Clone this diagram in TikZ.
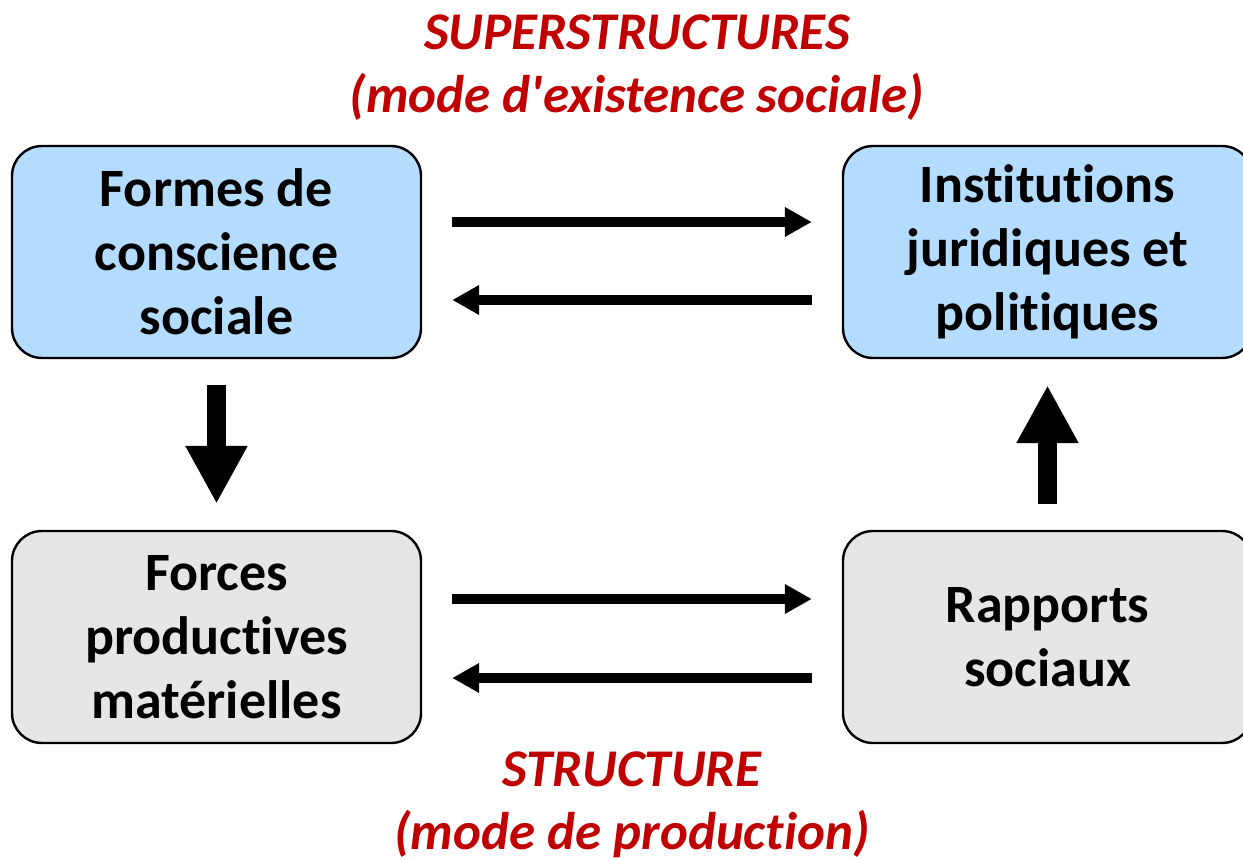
\documentclass[tikz,border=0pt]{standalone}
\usepackage{fontspec}
\setmainfont{Carlito}[Ligatures={TeXOff,NoCommon}]
\usepackage{tikz}
\usetikzlibrary{positioning,arrows.meta}
\definecolor{supbg}{HTML}{B4DCFE}
\definecolor{strbg}{HTML}{E6E6E6}
\definecolor{lab}{HTML}{C00000}

\begin{document}
\begin{tikzpicture}[
  x=0.5pt,y=-0.5pt,
  font=\fontsize{27}{32}\selectfont\bfseries,
  box/.style={draw=black,line width=1.2pt,rounded corners=15pt,minimum width=204.5pt,minimum height=106pt,align=center,inner sep=0pt},
  sup/.style={box,fill=supbg},
  str/.style={box,fill=strbg},
  harr/.style={-{Triangle[length=13.5pt,width=14pt]},line width=5pt,shorten <=15pt,shorten >=15pt},
  varr/.style={-{Triangle[length=29pt,width=29pt]},line width=9.5pt,shorten <=13pt,shorten >=13pt},
  ttl/.style={text=lab,font=\fontsize{26.5}{31.5}\selectfont\bfseries\itshape,align=center,inner sep=0pt},
]
\useasboundingbox (0,0) rectangle (1243,860);
\node[sup] (forme) at (216.5,252) {Formes de\\conscience\\sociale};
\node[sup] (inst) at (1047.5,252) {Institutions\\juridiques et\\politiques};
\node[str] (force) at (216.5,637) {Forces\\productives\\matérielles};
\node[str] (rapp) at (1047.5,637) {Rapports\\sociaux};
\node[ttl] (super) at (637,68) {SUPERSTRUCTURES\\(mode d'existence sociale)};
\node[ttl] (struc) at (632,805) {STRUCTURE\\(mode de production)};
% echanges horizontaux
\draw[harr] ([yshift=15pt]forme.east) -- ([yshift=15pt]inst.west);
\draw[harr] ([yshift=-24pt]inst.west) -- ([yshift=-24pt]forme.east);
\draw[harr] ([yshift=19pt]force.east) -- ([yshift=19pt]rapp.west);
\draw[harr] ([yshift=-20.5pt]rapp.west) -- ([yshift=-20.5pt]force.east);
% verticaux
\draw[varr] (forme) -- (force);
\draw[varr] (rapp) -- (inst);
\end{tikzpicture}
\end{document}
